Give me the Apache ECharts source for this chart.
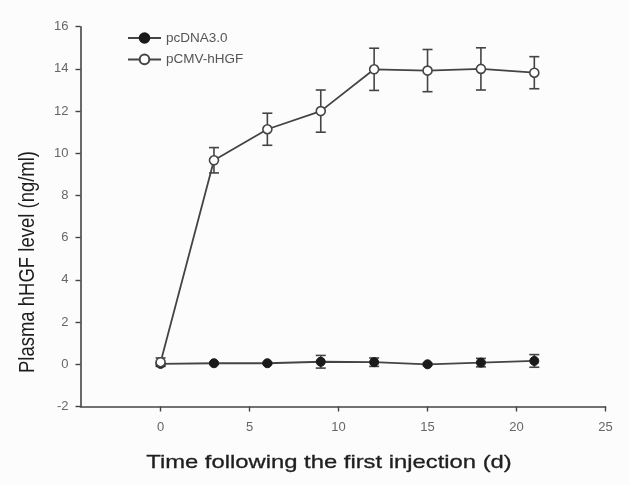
<!DOCTYPE html>
<html>
<head>
<meta charset="utf-8">
<script src="https://cdn.jsdelivr.net/npm/echarts@6/dist/echarts.min.js"></script>
<style>
    html, body { margin: 0; padding: 0; background: #fcfcfc; }
    #chart { width: 630px; height: 485px; }
</style>
</head>
<body>
<div id="chart"></div>
<script>
// days after first injection
const days = [0, 3, 6, 9, 12, 15, 18, 21]
// pcDNA3.0 (control) mean and error
const ctrlMean = [0.02, 0.05, 0.05, 0.12, 0.1, 0.0, 0.08, 0.16]
const ctrlErr = [0.05, 0.05, 0.05, 0.3, 0.2, 0.05, 0.2, 0.3]
// pCMV-hHGF mean and error
const hgfMean = [0.1, 9.67, 11.14, 12.0, 13.98, 13.92, 14.0, 13.82]
const hgfErr = [0.2, 0.6, 0.76, 1.0, 1.0, 1.0, 1.0, 0.76]
const xTicks = [0, 5, 10, 15, 20, 25]

const ink = '#444'

const pairs = (ys) => days.map((d, i) => [d, ys[i]])
const bars = (ys, es) => days.map((d, i) => [d, ys[i] - es[i], ys[i] + es[i]])

function errorBar(params, api) {
    const x = api.value(0)
    const lo = api.coord([x, api.value(1)])
    const hi = api.coord([x, api.value(2)])
    const w = 5
    const style = { stroke: ink, lineWidth: 1.6 }
    return {
        type: 'group',
        children: [
            { type: 'line', shape: { x1: hi[0], y1: hi[1], x2: lo[0], y2: lo[1] }, style },
            { type: 'line', shape: { x1: hi[0] - w, y1: hi[1], x2: hi[0] + w, y2: hi[1] }, style },
            { type: 'line', shape: { x1: lo[0] - w, y1: lo[1], x2: lo[0] + w, y2: lo[1] }, style }
        ]
    }
}

const chart = echarts.init(document.getElementById('chart'))

const option = {
    backgroundColor: '#fcfcfc',
    animation: false,
    grid: { left: 80.5, right: 24.5, top: 26.7, bottom: 78.5 },
    legend: {
        data: ['pcDNA3.0', 'pCMV-hHGF'],
        orient: 'vertical',
        left: 122,
        top: 26,
        itemWidth: 33,
        itemHeight: 12,
        itemGap: 7.4,
        textStyle: { color: '#555', fontSize: 13.5, fontFamily: 'Liberation Sans', lineHeight: 12 }
    },
    xAxis: {
        type: 'value',
        min: -4.5,
        max: 25,
        axisLine: { onZero: false, lineStyle: { color: ink, width: 1.6 } },
        axisTick: { customValues: xTicks, length: 5, lineStyle: { color: ink, width: 1.4 } },
        axisLabel: { customValues: xTicks, color: '#666', fontSize: 13, fontFamily: 'Liberation Sans', margin: 14 },
        splitLine: { show: false }
    },
    yAxis: {
        type: 'value',
        min: -2,
        max: 16,
        interval: 2,
        axisLine: { show: true, onZero: false, lineStyle: { color: ink, width: 1.6 } },
        axisTick: { show: true, length: 5, lineStyle: { color: ink, width: 1.4 } },
        axisLabel: { color: '#666', fontSize: 13, fontFamily: 'Liberation Sans', margin: 12 },
        splitLine: { show: false }
    },
    graphic: [
        {
            type: 'text',
            x: 28, y: 262,
            rotation: Math.PI / 2,
            scaleY: 1.2,
            style: {
                text: 'Plasma hHGF level (ng/ml)',
                font: '18.5px "Liberation Sans"',
                fill: '#1e1e1e',
                align: 'center',
                verticalAlign: 'middle'
            }
        },
        {
            type: 'text',
            x: 329, y: 463,
            scaleX: 1.28,
            style: {
                text: 'Time following the first injection (d)',
                font: '18.6px "Liberation Sans"',
                fill: '#1e1e1e',
                stroke: '#1e1e1e',
                lineWidth: 0.3,
                align: 'center',
                verticalAlign: 'middle'
            }
        }
    ],
    series: [
        {
            name: 'pcDNA3.0 err',
            type: 'custom',
            renderItem: errorBar,
            data: bars(ctrlMean, ctrlErr),
            z: 1
        },
        {
            name: 'pCMV-hHGF err',
            type: 'custom',
            renderItem: errorBar,
            data: bars(hgfMean, hgfErr),
            z: 1
        },
        {
            name: 'pcDNA3.0',
            type: 'line',
            data: pairs(ctrlMean),
            symbol: 'circle',
            symbolSize: 9,
            lineStyle: { color: ink, width: 1.8 },
            itemStyle: { color: '#1a1a1a', borderColor: '#1a1a1a', borderWidth: 1 },
            z: 2
        },
        {
            name: 'pCMV-hHGF',
            type: 'line',
            data: pairs(hgfMean),
            symbol: 'circle',
            symbolSize: 9,
            lineStyle: { color: ink, width: 1.8 },
            itemStyle: { color: '#ffffff', borderColor: ink, borderWidth: 1.6 },
            z: 3
        }
    ]
}

chart.setOption(option)
window.addEventListener('resize', () => chart.resize())
</script>
</body>
</html>
